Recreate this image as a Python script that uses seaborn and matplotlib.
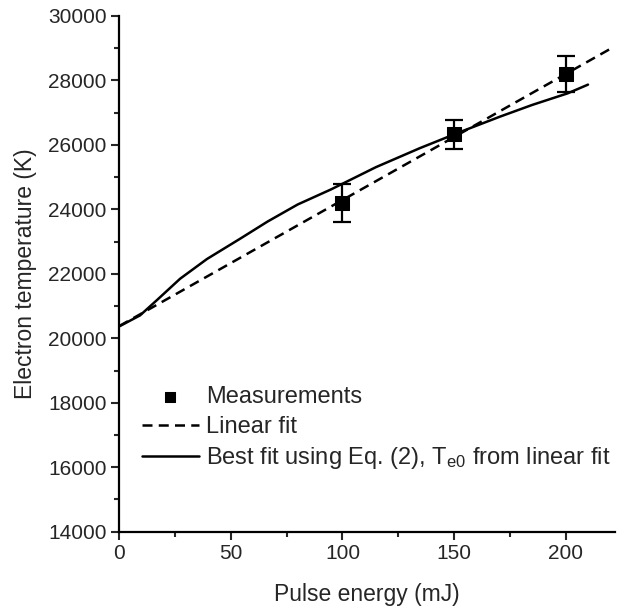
import numpy as np
import matplotlib
matplotlib.use("Agg")
import matplotlib.pyplot as plt
import seaborn as sns
import pandas as pd

# ====================== data ======================
energy = [100, 150, 200]
temp = [24200, 26330, 28200]
temp_err = [600, 450, 550]

lin_x = [0, 220]
lin_y = [20380, 28980]

fit_x = [0, 9.3, 16.8, 27.3, 39.3, 54.4, 66.4, 79.9, 94.9, 105.4, 115, 134.7, 152.7, 170.7, 185, 200.9, 210]
fit_y = [20370, 20710, 21180, 21850, 22460, 23100, 23620, 24150, 24620, 24980, 25310, 25900, 26400, 26880, 27240, 27600, 27870]

# ====================== style ======================
sns.set_style("ticks")
plt.rcParams['font.family'] = ['Liberation Sans', 'DejaVu Sans']
plt.rcParams['mathtext.fontset'] = 'custom'
plt.rcParams['mathtext.rm'] = 'Liberation Sans'
plt.rcParams['mathtext.it'] = 'Liberation Sans'

fig = plt.figure(figsize=(6.21, 6.14), dpi=100)
ax = fig.add_axes([0.192, 0.134, 0.798, 0.840])

meas = pd.DataFrame({"energy": energy, "temp": temp})
lin = pd.DataFrame({"x": lin_x, "y": lin_y})
fit = pd.DataFrame({"x": fit_x, "y": fit_y})

ax.errorbar(energy, temp, yerr=temp_err, fmt='none', ecolor='black',
            elinewidth=1.6, capsize=6.5, capthick=1.6, zorder=3)
sns.scatterplot(data=meas, x="energy", y="temp", marker='s', s=90,
                color='black', edgecolor='black', ax=ax, zorder=4,
                label='Measurements')
sns.lineplot(data=lin, x="x", y="y", color='black', lw=1.8,
             linestyle=(0, (4, 2.5)), ax=ax, label='Linear fit')
sns.lineplot(data=fit, x="x", y="y", color='black', lw=1.8, ax=ax,
             label=r'Best fit using Eq. (2), T$_{\mathrm{e0}}$ from linear fit')

ax.set_xlim(0, 222)
ax.set_ylim(14000, 30000)
ax.set_xticks([0, 50, 100, 150, 200])
ax.set_xticks(np.arange(25, 225, 50), minor=True)
ax.set_yticks(np.arange(14000, 30001, 2000))
ax.set_yticks(np.arange(15000, 30000, 2000), minor=True)
ax.tick_params(axis='both', which='major', direction='out', length=6,
               width=1.5, labelsize=15, pad=3)
ax.tick_params(axis='both', which='minor', direction='out', length=3.5,
               width=1.5)
for s in ['top', 'right']:
    ax.spines[s].set_visible(False)
for s in ['left', 'bottom']:
    ax.spines[s].set_linewidth(1.6)
    ax.spines[s].set_color('black')

ax.set_xlabel('Pulse energy (mJ)', fontsize=16.5, labelpad=14)
ax.set_ylabel('Electron temperature (K)', fontsize=16.5, labelpad=8)

leg = ax.legend(loc='upper left', bbox_to_anchor=(0.046, 0.282), frameon=False,
                fontsize=17, handlelength=2.4, handletextpad=0.3,
                labelspacing=0.32, borderpad=0, borderaxespad=0, markerscale=0.8)

fig.savefig('out.png', dpi=100)
